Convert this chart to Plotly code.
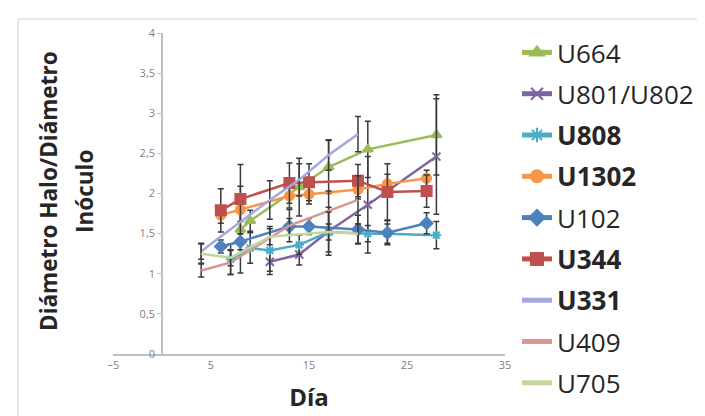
import plotly.graph_objects as go

# ---- data ----
days_U664 = [8, 9, 14, 17, 21, 28]
U664 = [1.55, 1.66, 2.08, 2.33, 2.55, 2.73]
err_U664 = [0.54, 0.13, 0.36, 0.33, 0.35, 0.5]

days_U801 = [11, 14, 17, 21, 28]
U801 = [1.15, 1.24, 1.53, 1.86, 2.46]
err_U801 = [0.12, 0.13, 0.3, 0.6, 0.72]

days_U808 = [7, 9, 11, 14, 17, 21, 23, 28]
U808 = [1.18, 1.32, 1.29, 1.36, 1.52, 1.50, 1.50, 1.48]
err_U808 = [0.19, 0.19, 0.3, 0.12, 0.1, 0.1, 0.12, 0.17]

days_main = [6, 8, 13, 15, 20, 23, 27]
U1302 = [1.73, 1.80, 1.97, 1.99, 2.05, 2.12, 2.19]
err_U1302 = [0.1, 0.15, 0.15, 0.12, 0.12, 0.12, 0.1]
U102 = [1.34, 1.40, 1.59, 1.59, 1.55, 1.51, 1.63]
err_U102 = [0.08, 0.1, 0.1, 0.1, 0.18, 0.15, 0.13]
U344 = [1.79, 1.93, 2.13, 2.14, 2.16, 2.02, 2.03]
err_U344 = [0.27, 0.43, 0.25, 0.23, 0.2, 0.35, 0.2]

days_U331 = [4, 11, 14, 17, 20]
U331 = [1.28, 1.92, 2.17, 2.48, 2.74]
err_U331 = [0.1, 0.24, 0.2, 0.19, 0.22]

days_U409 = [4, 7, 13, 17, 20]
U409 = [1.04, 1.14, 1.60, 1.78, 1.92]
err_U409 = [0.08, 0.15, 0.2, 0.25, 0.3]

days_U705 = [4, 7, 11, 17, 20]
U705 = [1.25, 1.20, 1.46, 1.52, 1.50]
err_U705 = [0.12, 0.1, 0.1, 0.25, 0.12]

series = [
    ("U664", days_U664, U664, err_U664, "#9BBB59", "triangle-up", 9),
    ("U801/U802", days_U801, U801, err_U801, "#8064A2", "x-thin-open", 8),
    ("<b>U808</b>", days_U808, U808, err_U808, "#4BACC6", "asterisk-open", 8),
    ("<b>U1302</b>", days_main, U1302, err_U1302, "#F79646", "circle", 9),
    ("U102", days_main, U102, err_U102, "#4F81BD", "diamond", 9),
    ("<b>U344</b>", days_main, U344, err_U344, "#C0504D", "square", 10),
    ("<b>U331</b>", days_U331, U331, err_U331, "#A3A8E0", None, 0),
    ("U409", days_U409, U409, err_U409, "#D99694", None, 0),
    ("U705", days_U705, U705, err_U705, "#C3D69B", None, 0),
]

x_ticks = [-5, 5, 15, 25, 35]
y_ticks = [0, 0.5, 1, 1.5, 2, 2.5, 3, 3.5, 4]

fig = go.Figure()
for name, xs, ys, es, col, sym, sz in series:
    mode = "lines+markers" if sym else "lines"
    marker = dict(color=col, symbol=sym, size=sz, line=dict(color=col, width=2)) if sym else None
    fig.add_trace(go.Scatter(
        x=xs, y=ys, name=name, mode=mode, legendgroup=name,
        line=dict(color=col, width=2.5),
        marker=marker,
        error_y=dict(type="data", array=es, visible=True,
                     color="#3A3A3A", thickness=1.5, width=3),
    ))

W, H = 705, 416
L, R, T, B = 105, 208, 25, 70
pw = W - L - R
ph = H - T - B

def px_to_paper_x(p):
    return (p - L) / pw

def px_to_paper_y(p):
    return (H - B - p) / ph

fig.update_layout(
    width=W, height=H,
    margin=dict(l=L, r=R, t=T, b=B, autoexpand=False),
    paper_bgcolor="white", plot_bgcolor="white",
    separators=", ",
    font=dict(family="Open Sans", color="#262626"),
    showlegend=True,
    legend=dict(
        x=px_to_paper_x(509), xanchor="left",
        y=px_to_paper_y(21), yanchor="top",
        maxheight=410,
        font=dict(size=26, family="Open Sans", color="#262626"),
        tracegroupgap=4.5, bgcolor="rgba(0,0,0,0)",
        itemsizing="constant",
    ),
    xaxis=dict(
        range=[-5, 35], tickmode="array", tickvals=x_ticks,
        showgrid=False, zeroline=False, showline=True,
        linecolor="#BFBFBF", linewidth=1.5,
        ticks="", tickfont=dict(size=11, color="#7F7F7F"),
        title=dict(text="<b>Día</b>", font=dict(size=24, color="#262626"), standoff=18),
    ),
    yaxis=dict(
        range=[0, 4], tickmode="array", tickvals=y_ticks,
        showgrid=False, zeroline=False, showline=True,
        linecolor="#BFBFBF", linewidth=1.5,
        anchor="free", position=5 / 40,
        ticks="outside", ticklen=4, tickcolor="#BFBFBF",
        tickfont=dict(size=11, color="#7F7F7F"),
    ),
    shapes=[dict(type="rect", xref="paper", yref="paper",
                 x0=px_to_paper_x(10), x1=px_to_paper_x(704),
                 y0=px_to_paper_y(430), y1=px_to_paper_y(11),
                 line=dict(color="#D0D0D0", width=1), layer="below")],
    annotations=[
        dict(text="<b>Diámetro Halo/Diámetro</b>", xref="paper", yref="paper",
             x=px_to_paper_x(40), y=px_to_paper_y(183), textangle=-90,
             showarrow=False, font=dict(size=22.5, color="#262626"),
             xanchor="center", yanchor="middle"),
        dict(text="<b>Inóculo</b>", xref="paper", yref="paper",
             x=px_to_paper_x(76), y=px_to_paper_y(184), textangle=-90,
             showarrow=False, font=dict(size=22.5, color="#262626"),
             xanchor="center", yanchor="middle"),
    ],
)

fig.write_html("out.html")
